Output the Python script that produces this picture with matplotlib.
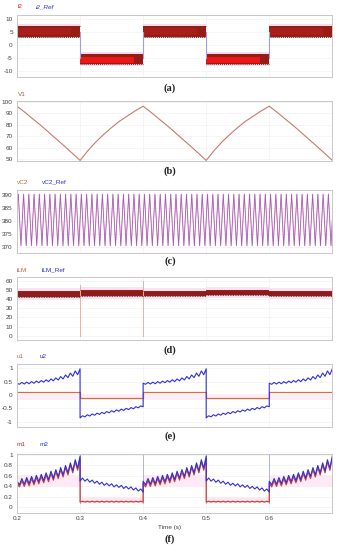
import numpy as np
import matplotlib
matplotlib.use('Agg')
import matplotlib.pyplot as plt

plt.rcParams['font.family'] = ['Liberation Sans', 'DejaVu Sans']
plt.rcParams['axes.unicode_minus'] = False

# ---------------- data ----------------
half_edges = [0.2, 0.3, 0.4, 0.5, 0.6, 0.7]
half_kind = ['pos', 'neg', 'pos', 'neg', 'pos']

# (a) i2 and reference
i2_ref_level = [5, -5, 5, -5, 5]
i2_upper = [7.4, -3.3, 7.4, -3.3, 7.4]
i2_lower = [3.2, -7.3, 3.2, -7.3, 3.2]
i2_core_upper = [6.6, -4.6, 6.6, -4.6, 6.6]
i2_core_lower = [4.0, -6.9, 4.0, -6.9, 4.0]

# (b) V1 (one falling and one rising half, sampled at equal steps)
v1_fall = [96, 90.7, 85, 79.5, 73.5, 67.5, 61.5, 55.3, 49]
v1_rise = [49, 57.5, 65, 71.5, 77.5, 83, 87.5, 92, 96]

# (c) vC2 ripple vertices
vc2_start = 385.0
vc2_peaks = [390.4, 390.4, 390.4, 390.4, 390.4, 390.4, 390.4, 390.4, 390.4, 390.4,
             390.4, 390.4, 390.4, 390.4, 390.4, 390.4, 390.4, 390.4, 390.4, 390.4,
             390.4, 390.4, 390.4, 390.4, 390.4, 390.4, 390.4, 390.4, 390.4, 390.4,
             390.4, 390.4, 390.4, 390.4, 390.4, 390.4, 390.4, 390.4, 390.4, 390.4,
             390.4, 390.4, 390.4, 390.4, 390.4, 390.4, 390.4, 390.4, 390.4, 390.4,
             390.4, 390.4, 390.4, 390.4, 390.4, 390.4, 390.4, 390.4, 390.4, 390.4]
vc2_troughs = [370.4, 370.4, 370.4, 370.4, 370.4, 370.4, 370.4, 370.4, 370.4, 370.4,
               370.4, 370.4, 370.4, 370.4, 370.4, 370.4, 370.4, 370.4, 370.4, 370.4,
               370.4, 370.4, 370.4, 370.4, 370.4, 370.4, 370.4, 370.4, 370.4, 370.4,
               370.4, 370.4, 370.4, 370.4, 370.4, 370.4, 370.4, 370.4, 370.4, 370.4,
               370.4, 370.4, 370.4, 370.4, 370.4, 370.4, 370.4, 370.4, 370.4, 370.4,
               370.4, 370.4, 370.4, 370.4, 370.4, 370.4, 370.4, 370.4, 370.4, 370.4]
vc2_end = 380.4

# (d) iLM
ilm_center = [45.5, 46.5, 46.3, 46.9, 46.0]
ilm_halfwidth = [2.8, 2.8, 2.8, 2.8, 2.8]
ilm_spike_t = [0.3, 0.4]
ilm_spike_top = [55, 60]

# (e) u1, u2
u1_level = [0.1, -0.12, 0.1, -0.12, 0.1]
u2_pos = [0.44, 0.40, 0.47, 0.41, 0.48, 0.42, 0.50, 0.44, 0.52, 0.46, 0.54, 0.48, 0.57,
          0.50, 0.60, 0.53, 0.64, 0.56, 0.69, 0.60, 0.75, 0.65, 0.82, 0.70, 0.90, 0.76, 0.98]
u2_neg = [-0.86, -0.78, -0.82, -0.74, -0.79, -0.71, -0.76, -0.68, -0.73, -0.65, -0.70, -0.62,
          -0.67, -0.59, -0.64, -0.56, -0.61, -0.53, -0.58, -0.50, -0.55, -0.47, -0.52, -0.44,
          -0.48, -0.41, -0.44]

# (f) m1, m2
m2_pos = [0.50, 0.43, 0.55, 0.44, 0.57, 0.45, 0.59, 0.47, 0.61, 0.49, 0.63, 0.51, 0.66,
          0.53, 0.69, 0.56, 0.72, 0.59, 0.76, 0.62, 0.80, 0.66, 0.85, 0.70, 0.91, 0.75, 0.98]
m1_pos = [0.46, 0.39, 0.51, 0.40, 0.53, 0.41, 0.55, 0.43, 0.57, 0.45, 0.59, 0.47, 0.62,
          0.49, 0.65, 0.52, 0.68, 0.55, 0.72, 0.58, 0.76, 0.62, 0.81, 0.66, 0.87, 0.71, 0.94]
m2_neg = [0.50, 0.56, 0.50, 0.54, 0.48, 0.52, 0.46, 0.50, 0.44, 0.48, 0.42, 0.46, 0.41,
          0.45, 0.39, 0.43, 0.38, 0.42, 0.36, 0.40, 0.35, 0.39, 0.33, 0.37, 0.31, 0.35, 0.29]
m1_neg = [0.10, 0.115, 0.10, 0.115, 0.10, 0.115, 0.10, 0.115, 0.10, 0.115, 0.10, 0.115, 0.10,
          0.115, 0.10, 0.115, 0.10, 0.115, 0.10, 0.115, 0.10, 0.115, 0.10, 0.115, 0.10, 0.115, 0.10]

# axis settings
yticks_a = [10, 5, 0, -5, -10]
yticks_b = [100, 90, 80, 70, 60, 50]
yticks_c = [390, 385, 380, 375, 370]
yticks_d = [60, 50, 40, 30, 20, 10, 0]
yticks_e = [1, 0.5, 0, -0.5, -1]
ylabels_e = ['1', '0.5', '0', '-0.5', '-1']
yticks_f = [1, 0.8, 0.6, 0.4, 0.2, 0]
ylabels_f = ['1', '0.8', '0.6', '0.4', '0.2', '0']
xticks = [0.2, 0.3, 0.4, 0.5, 0.6]
xlabels = ['0.2', '0.3', '0.4', '0.5', '0.6']

# ---------------- figure ----------------
W, H = 340, 550
fig = plt.figure(figsize=(W / 100, H / 100), dpi=100)
fig.patch.set_facecolor('white')

RED = '#e02020'
BLUE = '#3030d8'


def add_ax(top, bottom, ylim, yt, yl=None):
    ax = fig.add_axes([17 / W, 1 - bottom / H, 315 / W, (bottom - top) / H])
    ax.set_xlim(0.2, 0.6995)
    ax.set_ylim(*ylim)
    ax.set_yticks(yt)
    if yl is not None:
        ax.set_yticklabels(yl)
    ax.set_xticks(xticks)
    ax.tick_params(length=0, labelsize=4.6, colors='#404040', pad=3)
    ax.set_xticklabels([])
    for s in ax.spines.values():
        s.set_color('#c8c8c8')
        s.set_linewidth(0.7)
    ax.grid(True, color='#f2f2f2', lw=0.5)
    ax.set_axisbelow(True)
    return ax


def half_t(i, n):
    return np.linspace(half_edges[i], half_edges[i + 1], n)


def ftext(x, y, s, **kw):
    fig.text(x / W, 1 - y / H, s, **kw)


# (a)
axa = add_ax(15, 77, (-12.3, 11.5), yticks_a)
for i in range(5):
    t0, t1 = half_edges[i], half_edges[i + 1]
    axa.fill_between([t0, t1], i2_lower[i] - 0.6, i2_upper[i] + 0.6, color='#fbd8f0', lw=0)
    axa.fill_between([t0, t1], i2_lower[i], i2_upper[i], color='#9a1a14', lw=0)
    core = '#ee1515' if half_kind[i] == 'neg' else '#a81e18'
    axa.fill_between([t0, t0 + 0.85 * (t1 - t0)], i2_core_lower[i], i2_core_upper[i], color=core, lw=0)
    axa.plot([t0, t1], [i2_upper[i]] * 2, color='#5a3a10', lw=0.7, ls=(0, (1, 1)))
    axa.plot([t0, t1], [i2_lower[i]] * 2, color='#5a3a10', lw=0.7, ls=(0, (1, 1)))
for i in range(1, 5):
    axa.plot([half_edges[i]] * 2, [i2_ref_level[i - 1], i2_ref_level[i]], color='#a0a0e8', lw=0.8)

# (b)
axb = add_ax(101, 161, (48.5, 100.5), yticks_b)
tb, vb = [], []
for i in range(5):
    seg = v1_fall if half_kind[i] == 'pos' else v1_rise
    tt = list(half_t(i, len(seg)))
    if i > 0:
        tt, seg = tt[1:], seg[1:]
    tb.extend(tt)
    vb.extend(seg)
axb.plot(tb, vb, color='#c87a6a', lw=0.8)

# (c)
axc = add_ax(190, 253, (367.6, 392.0), yticks_c)
tc = [0.2]
vc = [vc2_start]
period = 0.5 / 60
for k in range(60):
    tc.append(0.2021 + k * period)
    vc.append(vc2_peaks[k])
    tc.append(0.2021 + k * period + period / 2)
    vc.append(vc2_troughs[k])
tc.append(0.7)
vc.append(vc2_end)
axc.plot(tc, vc, color='#e888b8', lw=0.7)
axc.plot(tc, vc, color='#6848c0', lw=0.4, alpha=0.7)

# (d)
axd = add_ax(277, 340, (-4.7, 64), yticks_d)
for i in range(2):
    axd.plot([ilm_spike_t[i]] * 2, [0, ilm_spike_top[i]], color='#eab0a0', lw=0.7)
for i in range(5):
    t0, t1 = half_edges[i], half_edges[i + 1]
    c, w = ilm_center[i], ilm_halfwidth[i]
    axd.fill_between([t0, t1], c - 2.2 * w, c + 2.2 * w, color='#fde2f2', lw=0)
    axd.fill_between([t0, t1], c - w, c + w, color='#8e1c1c', lw=0)
    axd.plot([t0, t1], [c - w] * 2, color='#302010', lw=0.6, ls=(0, (1, 1)))
    axd.plot([t0, t1], [c + w] * 2, color='#c02020', lw=0.6, ls=(0, (1, 1)))

# (e)
axe = add_ax(364, 427, (-1.2, 1.16), yticks_e, ylabels_e)
axe.fill_between([0.2, 0.7], -0.2, 0.02, color='#fdeef6', lw=0)
tu1, vu1 = [], []
tu2, vu2 = [], []
for i in range(5):
    t0, t1 = half_edges[i], half_edges[i + 1]
    tu1 += [t0, t1]
    vu1 += [u1_level[i]] * 2
    seg = u2_pos if half_kind[i] == 'pos' else u2_neg
    tu2.extend(half_t(i, len(seg)))
    vu2.extend(seg)
axe.plot(tu1, vu1, color='#d07040', lw=0.9)
axe.plot(tu2, vu2, color=BLUE, lw=0.8)

# (f)
axf = add_ax(454, 513, (-0.11, 1.02), yticks_f, ylabels_f)
tm, v1s, v2s = [], [], []
for i in range(5):
    t0, t1 = half_edges[i], half_edges[i + 1]
    if half_kind[i] == 'neg':
        axf.fill_between([t0, t1], 0.09, 0.2, color='#fde8f2', lw=0)
    else:
        axf.fill_between([t0, t1], 0.38, 0.62, color='#fdeaf6', lw=0)
    s1 = m1_pos if half_kind[i] == 'pos' else m1_neg
    s2 = m2_pos if half_kind[i] == 'pos' else m2_neg
    tm.extend(half_t(i, len(s1)))
    v1s.extend(s1)
    v2s.extend(s2)
for i in range(1, 5):
    axf.plot([half_edges[i]] * 2, [0.08, 1.0], color='#b0b0f0', lw=0.7)
axf.plot(tm, v1s, color='#d04030', lw=0.9)
axf.plot(tm, v2s, color=BLUE, lw=0.8)
axf.set_xticklabels(xlabels)
axf.tick_params(axis='x', pad=2)

# series labels
lab = dict(fontsize=4.6, va='center', ha='left')
ftext(18, 7, 'i2', color=RED, **lab)
ftext(36, 7, 'i2_Ref', color=BLUE, style='italic', **lab)
ftext(18, 94, 'V1', color='#a06050', **lab)
ftext(17, 182, 'vC2', color='#c06040', **lab)
ftext(42, 182, 'vC2_Ref', color=BLUE, **lab)
ftext(17, 270, 'iLM', color='#c06040', **lab)
ftext(42, 270, 'iLM_Ref', color=BLUE, **lab)
ftext(17, 357, 'u1', color='#c06040', **lab)
ftext(40, 357, 'u2', color=BLUE, **lab)
ftext(17, 444, 'm1', color=RED, **lab)
ftext(40, 444, 'm2', color=BLUE, **lab)

ftext(170, 527, 'Time (s)', fontsize=4.6, color='#404040', ha='center', va='center')

pl = dict(fontsize=7.5, fontweight='bold', family=['Liberation Serif', 'DejaVu Serif'],
          ha='center', va='center', color='#202020')
for s, y in [('(a)', 88), ('(b)', 171), ('(c)', 261), ('(d)', 350), ('(e)', 436), ('(f)', 539)]:
    ftext(170, y, s, **pl)

fig.savefig('out.png', dpi=100, facecolor='white')
